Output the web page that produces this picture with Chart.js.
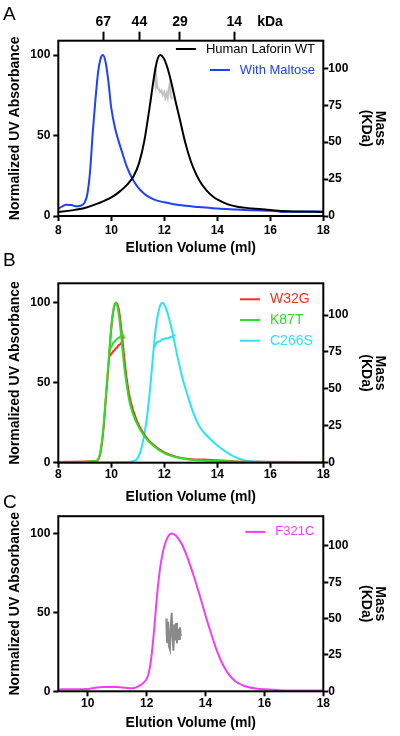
<!DOCTYPE html>
<html>
<head>
<meta charset="utf-8">
<script src="https://cdn.jsdelivr.net/npm/chart.js@4.4.1/dist/chart.umd.min.js"></script>
<style>
  html, body { margin: 0; padding: 0; background: #fff; }
  body { width: 400px; height: 736px; position: relative; overflow: hidden; font-family: "Liberation Sans", Arial, sans-serif; }
  .panel { position: absolute; left: 0; width: 400px; }
  .letter { position: absolute; left: 3px; font-size: 19px; line-height: 19px; color: #000; }
</style>
</head>
<body>
<div class="panel" style="top:0;height:258px"><canvas id="chartA"></canvas></div>
<div class="panel" style="top:258px;height:248px"><canvas id="chartB"></canvas></div>
<div class="panel" style="top:506px;height:230px"><canvas id="chartC"></canvas></div>
<div class="letter" style="top:4px">A</div>
<div class="letter" style="top:250px">B</div>
<div class="letter" style="top:492px">C</div>

<script>
// ---- panel A: Human Laforin WT vs with maltose ----
const kdaVolume = [9.70, 11.06, 12.59, 14.64, 15.99];
const kdaLabels = ['67', '44', '29', '14', 'kDa'];

const wtVolume = [8.0, 8.5, 9.0, 9.5, 10.0, 10.3, 10.6, 10.85, 11.05, 11.25, 11.45, 11.6, 11.72, 11.85, 11.98, 12.1, 12.25, 12.4, 12.6, 12.8, 13.0, 13.2, 13.4, 13.6, 13.8, 14.0, 14.4, 14.8, 15.3, 15.8, 16.3, 17.0, 18.0];
const wtAbsorbance = [2.5, 3.5, 5, 7.8, 11.5, 15, 19.5, 25, 33, 47, 68, 85, 96, 100, 98, 93, 84, 73, 59, 45, 34, 26, 20, 15.8, 12.6, 10.3, 7.2, 5.6, 4.7, 4, 3.2, 2.8, 2.5];

const maltoseVolume = [8.0, 8.15, 8.3, 8.5, 8.65, 8.85, 9.0, 9.1, 9.2, 9.3, 9.4, 9.5, 9.6, 9.68, 9.78, 9.88, 10.0, 10.15, 10.4, 10.6, 10.8, 11.0, 11.2, 11.4, 11.65, 12.0, 12.3, 12.8, 13.3, 14.0, 14.7, 15.3, 16.3, 16.4, 17.0, 18.0];
const maltoseAbsorbance = [4.5, 6, 7, 6.8, 6, 6.5, 8.5, 14, 28, 52, 72, 89, 98, 100, 96, 85, 67, 54, 40, 30, 23, 18, 14.5, 12, 10, 8.5, 7.5, 6.3, 5.6, 4.6, 4, 3.5, 2.9, 2.5, 2.6, 2.8];

const wtMassVolume = [11.6, 11.63, 11.67, 11.7, 11.74, 11.79, 11.84, 11.89, 11.94, 11.99, 12.04, 12.09, 12.13, 12.17, 12.21, 12.25, 12.29];
const wtMass = [91, 96, 89, 94, 87, 86, 84, 85, 82, 84, 80, 83, 80, 86, 90, 81, 79];

// ---- panel B: mutants ----
const w32gVolume = [8.0, 9.0, 9.4, 9.5, 9.6, 9.7, 9.8, 9.9, 10.0, 10.09, 10.18, 10.28, 10.37, 10.47, 10.57, 10.72, 10.97, 11.27, 11.6, 12.0, 12.5, 13.0, 13.5, 14.0, 15.0, 18.0];
const w32gAbsorbance = [0.5, 0.8, 1, 1.8, 7, 20, 41, 62, 84, 96, 100, 96, 85, 69, 54, 39, 26, 17, 11, 6.5, 3.5, 2.2, 2, 1.5, 0.6, 0.4];

const k87tVolume = [8.0, 9.0, 9.4, 9.5, 9.6, 9.7, 9.8, 9.9, 10.0, 10.08, 10.17, 10.26, 10.35, 10.45, 10.55, 10.7, 10.95, 11.25, 11.6, 12.0, 12.5, 13.0, 13.5, 14.0, 15.0, 18.0];
const k87tAbsorbance = [0.3, 0.5, 1, 2, 8, 22, 43, 64, 85, 96, 100, 95, 83, 66, 52, 37, 25, 16.5, 10.5, 6, 3.2, 1.8, 1.4, 1, 0.5, 0.3];

const c266sVolume = [8.0, 10.5, 10.8, 11.0, 11.15, 11.25, 11.35, 11.45, 11.55, 11.65, 11.75, 11.85, 11.93, 12.05, 12.15, 12.3, 12.5, 12.7, 12.9, 13.1, 13.35, 13.6, 13.85, 14.1, 14.4, 14.7, 15.0, 15.5, 16.0, 18.0];
const c266sAbsorbance = [0.2, 0.3, 0.8, 3, 10, 18, 29, 44, 62, 80, 92, 98.5, 100, 97, 92, 82, 66, 52, 41, 31, 22, 17, 13, 9.5, 6, 3.3, 1.6, 0.7, 0.4, 0.3];

const w32gMassVolume = [9.93, 9.97, 10.02, 10.07, 10.12, 10.17, 10.22, 10.27, 10.32, 10.37, 10.42];
const w32gMass = [72, 73, 74, 75.5, 76, 77.5, 78, 79.5, 80, 81, 79];
const k87tMassVolume = [9.93, 9.97, 10.02, 10.07, 10.12, 10.17, 10.22, 10.27, 10.32, 10.37, 10.42, 10.46, 10.49];
const k87tMass = [75, 78, 79, 81, 82, 83, 84, 84.5, 85, 86, 87, 86, 84];
const c266sMassVolume = [11.63, 11.67, 11.72, 11.78, 11.85, 11.92, 12.0, 12.08, 12.15, 12.22, 12.3, 12.36, 12.42];
const c266sMass = [78, 80, 81.5, 82, 82.5, 83.5, 83.8, 84.5, 84.2, 85, 85.5, 86, 86.5];

// ---- panel C: F321C ----
const f321cVolume = [9.0, 9.5, 10.0, 10.25, 10.5, 11.0, 11.3, 11.5, 11.7, 11.9, 12.05, 12.15, 12.25, 12.35, 12.45, 12.55, 12.7, 12.85, 13.0, 13.2, 13.4, 13.6, 13.8, 14.0, 14.2, 14.4, 14.6, 14.8, 15.0, 15.3, 15.7, 16.2, 16.5, 17.0, 18.0];
const f321cAbsorbance = [1.2, 1.3, 1.5, 2.2, 2.8, 2.8, 2.2, 1.9, 3, 5.5, 10, 20, 38, 60, 77, 88, 97, 100, 98.5, 93, 84, 73, 61, 48, 36, 25, 16.5, 10.5, 6.5, 3.5, 1.8, 1.2, 0.7, 0.5, 0.5];

const f321cMassVolume = [12.67, 12.68, 12.7, 12.73, 12.76, 12.79, 12.82, 12.85, 12.88, 12.91, 12.94, 12.97, 13.0, 13.03, 13.07, 13.1, 13.13, 13.16];
const f321cMass = [50, 40, 33, 48, 31, 29, 45, 54, 37, 28, 46, 35, 47, 33, 43, 36, 44, 38];

Chart.defaults.font.family = '"Liberation Sans", Arial, sans-serif';
Chart.defaults.color = '#000';

const pts = (xs, ys) => xs.map((x, i) => ({x: x, y: ys[i]}));

function uvLine(label, xs, ys, color, order) {
    return {label: label, data: pts(xs, ys), borderColor: color, borderWidth: 2, pointRadius: 0,
            cubicInterpolationMode: 'monotone', order: order, yAxisID: 'y'};
}
function massLine(xs, ys, color, order) {
    return {label: '', data: pts(xs, ys), borderColor: color, borderWidth: 2, pointRadius: 0,
            tension: 0, order: order, yAxisID: 'y2'};
}

// box around the plot area
const framePlugin = {
    id: 'frame',
    afterDatasetsDraw(chart) {
        const {ctx, chartArea: a} = chart;
        ctx.save();
        ctx.strokeStyle = '#000';
        ctx.lineWidth = 2;
        ctx.strokeRect(a.left, a.top, a.right - a.left, a.bottom - a.top);
        ctx.restore();
    }
};

// legend inside the plot, colored text
const legendPlugin = {
    id: 'panelLegend',
    afterDatasetsDraw(chart, args, o) {
        const {ctx, chartArea: a} = chart;
        const items = chart.data.datasets.filter(d => d.label);
        ctx.save();
        ctx.font = o.size + 'px "Liberation Sans", Arial, sans-serif';
        ctx.textBaseline = 'middle';
        ctx.lineWidth = 2;
        items.forEach((d, i) => {
            const y = a.top + o.top + i * o.gap;
            const w = ctx.measureText(d.label).width;
            const tx = o.align === 'right' ? a.right - o.inset - w : a.right - o.inset;
            ctx.strokeStyle = d.borderColor;
            ctx.beginPath();
            ctx.moveTo(tx - 30, y);
            ctx.lineTo(tx - 10, y);
            ctx.stroke();
            ctx.fillStyle = d.borderColor;
            ctx.fillText(d.label, tx, y);
        });
        ctx.restore();
    }
};

function makeScales(p) {
    const tickFont = {size: 12, weight: 'bold'};
    const titleFont = {size: 14, weight: 'bold'};
    const grid = {drawOnChartArea: false, tickLength: 5, tickWidth: 2, tickColor: '#000'};
    return {
        x: {
            type: 'linear', position: 'bottom', min: p.xMin, max: 18,
            afterFit: s => { s.height = p.xHeight; },
            ticks: {stepSize: 2, includeBounds: false, font: tickFont, padding: p.xPad, maxRotation: 0, autoSkip: false},
            grid: grid, border: {display: false},
            title: {display: true, text: 'Elution Volume (ml)', font: titleFont, padding: {top: 0, bottom: p.titlePad}}
        },
        y: {
            position: 'left', min: 0, max: p.yMax,
            afterFit: s => { s.width = 58.3; },
            ticks: {stepSize: 50, includeBounds: false, font: tickFont, padding: 3},
            grid: grid, border: {display: false},
            title: {display: true, text: 'Normalized UV Absorbance', font: titleFont, padding: {top: 6.6, bottom: 0}}
        },
        y2: {
            position: 'right', min: 0, max: p.y2Max,
            afterFit: s => { s.width = 76.7; },
            ticks: {stepSize: 25, includeBounds: false, font: tickFont, padding: 0},
            grid: grid, border: {display: false},
            title: {display: true, text: ['Mass', '(KDa)'], font: {size: 14, weight: 'bold', lineHeight: 1}, padding: {top: 13, bottom: 0}}
        }
    };
}

function makePanel(id, datasets, p, extraScales, legend) {
    const scales = Object.assign(makeScales(p), extraScales || {});
    new Chart(document.getElementById(id).getContext('2d'), {
        type: 'line',
        data: {datasets: datasets},
        options: {
            responsive: true,
            maintainAspectRatio: false,
            animation: false,
            layout: {padding: {top: p.padTop, left: 0, right: 0, bottom: 0}},
            scales: scales,
            plugins: {
                legend: {display: false},
                tooltip: {enabled: false},
                panelLegend: legend
            }
        },
        plugins: [framePlugin, legendPlugin]
    });
}

// panel A
makePanel('chartA', [
    uvLine('Human Laforin WT', wtVolume, wtAbsorbance, '#000000', 1),
    uvLine('With Maltose', maltoseVolume, maltoseAbsorbance, '#1e40ff', 2),
    massLine(wtMassVolume, wtMass, '#c2c2c2', 3)
], {xMin: 8, xHeight: 42, xPad: 2, titlePad: 1.6, yMax: 108.9, y2Max: 118.7, padTop: 0}, {
    xTop: {
        type: 'linear', position: 'top', min: 8, max: 18,
        afterFit: s => { s.height = 40.7; },
        afterBuildTicks: s => { s.ticks = kdaVolume.map(v => ({value: v})); },
        ticks: {autoSkip: false, maxRotation: 0, padding: 1, font: {size: 14, weight: 'bold'},
                callback: (v, i) => kdaLabels[i]},
        grid: {drawOnChartArea: false, tickLength: 9, tickWidth: 2,
               tickColor: c => c.index === 4 ? 'rgba(0,0,0,0)' : '#000'},
        border: {display: false}
    }
}, {size: 13, top: 8.3, gap: 21, inset: 8.3, align: 'right'});

// panel B
makePanel('chartB', [
    uvLine('W32G', w32gVolume, w32gAbsorbance, '#f8301e', 3),
    uvLine('K87T', k87tVolume, k87tAbsorbance, '#29e029', 1),
    uvLine('C266S', c266sVolume, c266sAbsorbance, '#28e4f4', 5),
    massLine(w32gMassVolume, w32gMass, '#f8301e', 4),
    massLine(k87tMassVolume, k87tMass, '#29e029', 2),
    massLine(c266sMassVolume, c266sMass, '#28e4f4', 6)
], {xMin: 8, xHeight: 43.3, xPad: 0, titlePad: 0.6, yMax: 112.1, y2Max: 121.5, padTop: 25.3},
   null, {size: 14, top: 16, gap: 20.7, inset: 53.3, align: 'left'});

// panel C
makePanel('chartC', [
    uvLine('F321C', f321cVolume, f321cAbsorbance, '#f53df5', 1),
    massLine(f321cMassVolume, f321cMass, '#8a8a8a', 2)
], {xMin: 9, xHeight: 44.7, xPad: 0, titlePad: 4.6, yMax: 110.9, y2Max: 120.4, padTop: 8.3},
   null, {size: 13, top: 15.7, gap: 21, inset: 9, align: 'right'});
</script>
</body>
</html>
